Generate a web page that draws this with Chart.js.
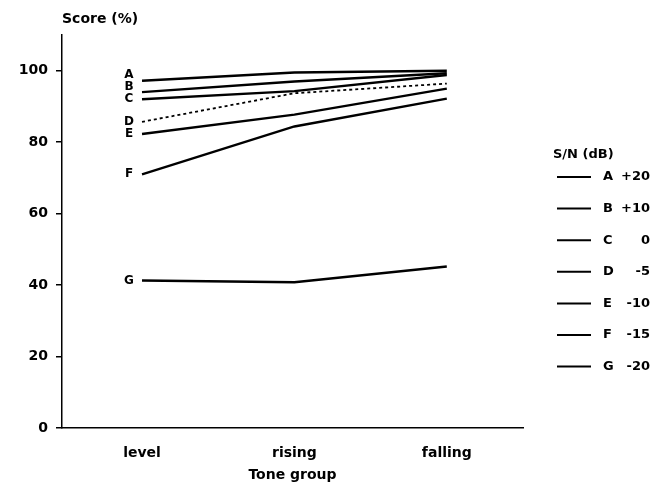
<!DOCTYPE html>
<html>
<head>
<meta charset="utf-8">
<script src="https://cdn.jsdelivr.net/npm/chart.js@4/dist/chart.umd.min.js"></script>
<style>
  html, body { margin: 0; padding: 0; background: #fff; }
  #wrap { width: 659px; height: 486px; position: relative; }
</style>
</head>
<body>
<div id="wrap"><canvas id="chart"></canvas></div>
<script>
const categories = ['level', 'rising', 'falling']
const curveNames = ['A', 'B', 'C', 'D', 'E', 'F', 'G']
const snrLabels = ['+20', '+10', '0', '-5', '-10', '-15', '-20']

const scoreA = [97.2, 99.5, 100]
const scoreB = [94.0, 97.0, 99.3]
const scoreC = [92.0, 94.3, 98.8]
const scoreD = [85.7, 93.7, 96.4]
const scoreE = [82.3, 87.7, 95.0]
const scoreF = [71.0, 84.4, 92.2]
const scoreG = [41.3, 40.8, 45.2]

const yTicks = [0, 20, 40, 60, 80, 100]

const allScores = [scoreA, scoreB, scoreC, scoreD, scoreE, scoreF, scoreG]

Chart.defaults.font.family = 'DejaVu Sans'
Chart.defaults.font.size = 14
Chart.defaults.font.weight = 'bold'
Chart.defaults.color = '#000'

const ctx = document.getElementById('chart').getContext('2d')

// letters at the start of each curve, legend on the right, y title on top
const extras = {
    id: 'extras',
    afterDraw(chart) {
        const c = chart.ctx
        const xs = chart.scales.x
        const ys = chart.scales.y
        c.save()
        c.fillStyle = '#000'
        c.strokeStyle = '#000'
        c.textBaseline = 'middle'

        // y axis title
        c.font = 'bold 14px "DejaVu Sans"'
        c.textAlign = 'left'
        c.fillText('Score (%)', 62, 19)

        // curve letters, spread so they do not overlap
        c.font = 'bold 12px "DejaVu Sans"'
        const ypos = allScores.map(s => ys.getPixelForValue(s[0]))
        for (let i = ypos.length - 2; i >= 0; i--) {
            if (ypos[i] > ypos[i + 1] - 12) ypos[i] = ypos[i + 1] - 12
        }
        c.textAlign = 'center'
        const lx = xs.getPixelForValue(0) - 13
        curveNames.forEach((n, i) => c.fillText(n, lx, ypos[i]))

        // legend
        c.font = 'bold 13px "DejaVu Sans"'
        c.textAlign = 'left'
        c.fillText('S/N (dB)', 553, 155)
        curveNames.forEach((n, i) => {
            const y = 177 + i * 31.6
            c.lineWidth = 2
            c.beginPath()
            c.moveTo(557, y)
            c.lineTo(591, y)
            c.stroke()
            c.fillText(n, 603, y)
            c.textAlign = 'right'
            c.fillText(snrLabels[i], 650, y)
            c.textAlign = 'left'
        })
        c.restore()
    }
}

const chart = new Chart(ctx, {
    type: 'line',
    data: {
        datasets: allScores.map((s, i) => ({
            label: curveNames[i],
            data: s.map((v, j) => ({ x: j, y: v })),
            borderColor: '#000',
            borderWidth: i === 3 ? 1.8 : 2.4,
            borderDash: i === 3 ? [3, 3] : [],
            pointRadius: 0,
            tension: 0,
            fill: false,
        }))
    },
    options: {
        responsive: true,
        maintainAspectRatio: false,
        animation: false,
        layout: { padding: { left: 0, top: 35, right: 136, bottom: 0 } },
        plugins: {
            legend: { display: false },
            tooltip: { enabled: false },
        },
        scales: {
            x: {
                type: 'linear',
                min: -0.525,
                max: 2.5,
                afterBuildTicks: scale => {
                    scale.ticks = categories.map((c, i) => ({ value: i }))
                },
                afterFit: scale => { scale.height = 58 },
                ticks: {
                    padding: 9,
                    callback: v => categories[v],
                },
                grid: { display: false },
                border: { display: true, color: '#000', width: 1.5 },
                title: {
                    display: true,
                    text: 'Tone group',
                    padding: { top: 4, bottom: 2 },
                },
            },
            y: {
                min: 0,
                max: 110,
                afterBuildTicks: scale => {
                    scale.ticks = yTicks.map(v => ({ value: v }))
                },
                afterFit: scale => { scale.width = 62 },
                ticks: { padding: 8 },
                grid: {
                    display: true,
                    drawOnChartArea: false,
                    drawTicks: true,
                    tickLength: 6,
                    color: '#000',
                    lineWidth: 1.5,
                },
                border: { display: true, color: '#000', width: 1.5 },
            }
        }
    },
    plugins: [extras]
})
</script>
</body>
</html>
